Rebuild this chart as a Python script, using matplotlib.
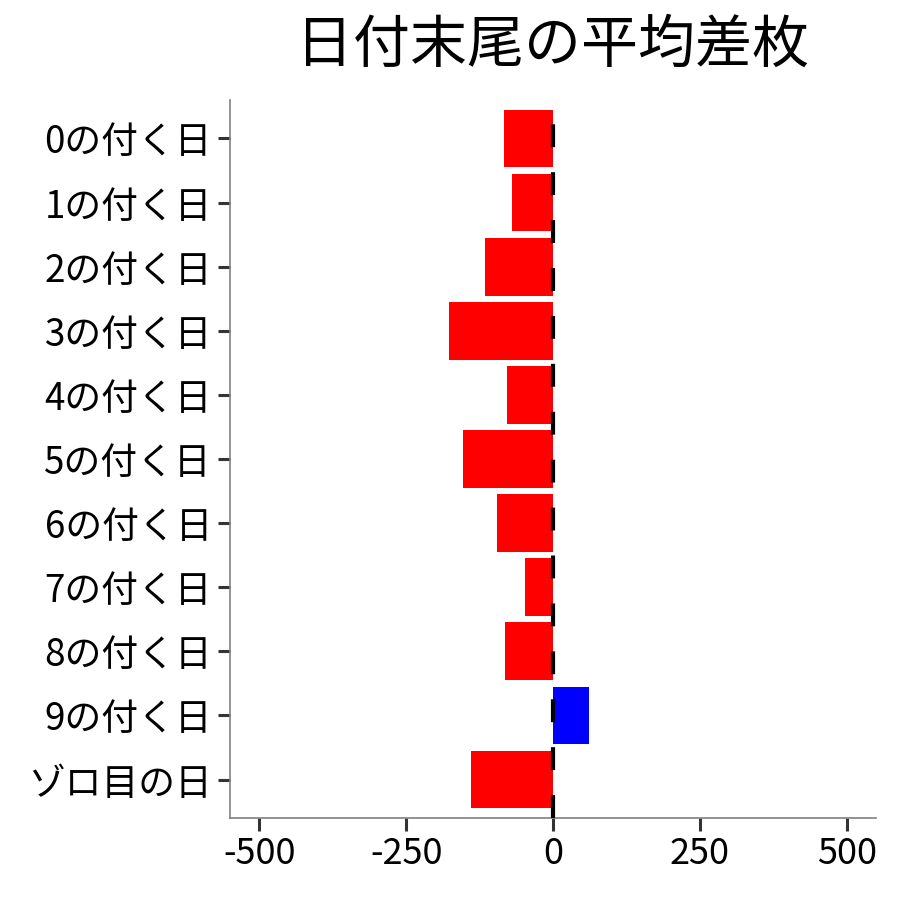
import matplotlib
matplotlib.use("Agg")
import matplotlib.pyplot as plt

plt.rcParams['font.family'] = ['Noto Sans CJK JP', 'DejaVu Sans']

categories = ["0の付く日", "1の付く日", "2の付く日", "3の付く日", "4の付く日",
              "5の付く日", "6の付く日", "7の付く日", "8の付く日", "9の付く日", "ゾロ目の日"]
values = [-84, -70, -116, -177, -78, -153, -95, -48, -82, 61, -139]
xticks = [-500, -250, 0, 250, 500]
xticklabels = ["-500", "-250", "0", "250", "500"]
title = "日付末尾の平均差枚"

fig = plt.figure(figsize=(9, 9), dpi=100)
ax = fig.add_axes([230/900, 1-818/900, (876-230)/900, (818-100)/900])

pos = list(range(len(categories)))
colors = ["#0000FF" if v > 0 else "#FF0000" for v in values]
ax.barh(pos, values, height=0.9, color=colors, zorder=2)
ax.axvline(0, color="black", linestyle=(0, (5.5, 6)), linewidth=3, zorder=3)

ax.set_xlim(-550, 550)
ax.set_ylim(len(categories) - 0.4, -0.6)
ax.set_yticks(pos)
ax.set_yticklabels(categories, fontsize=26.5)
ax.set_xticks(xticks)
ax.set_xticklabels(xticklabels, fontsize=26)

for s in ["top", "right"]:
    ax.spines[s].set_visible(False)
for s in ["left", "bottom"]:
    ax.spines[s].set_color("#808080")
    ax.spines[s].set_linewidth(1.2)
ax.tick_params(axis="both", colors="#333333", length=9, width=2.2, labelcolor="black", pad=4)

fig.text(552/900, 1-45/900, title, ha="center", va="center", fontsize=41)

fig.savefig("out.png", dpi=100, facecolor="white")
